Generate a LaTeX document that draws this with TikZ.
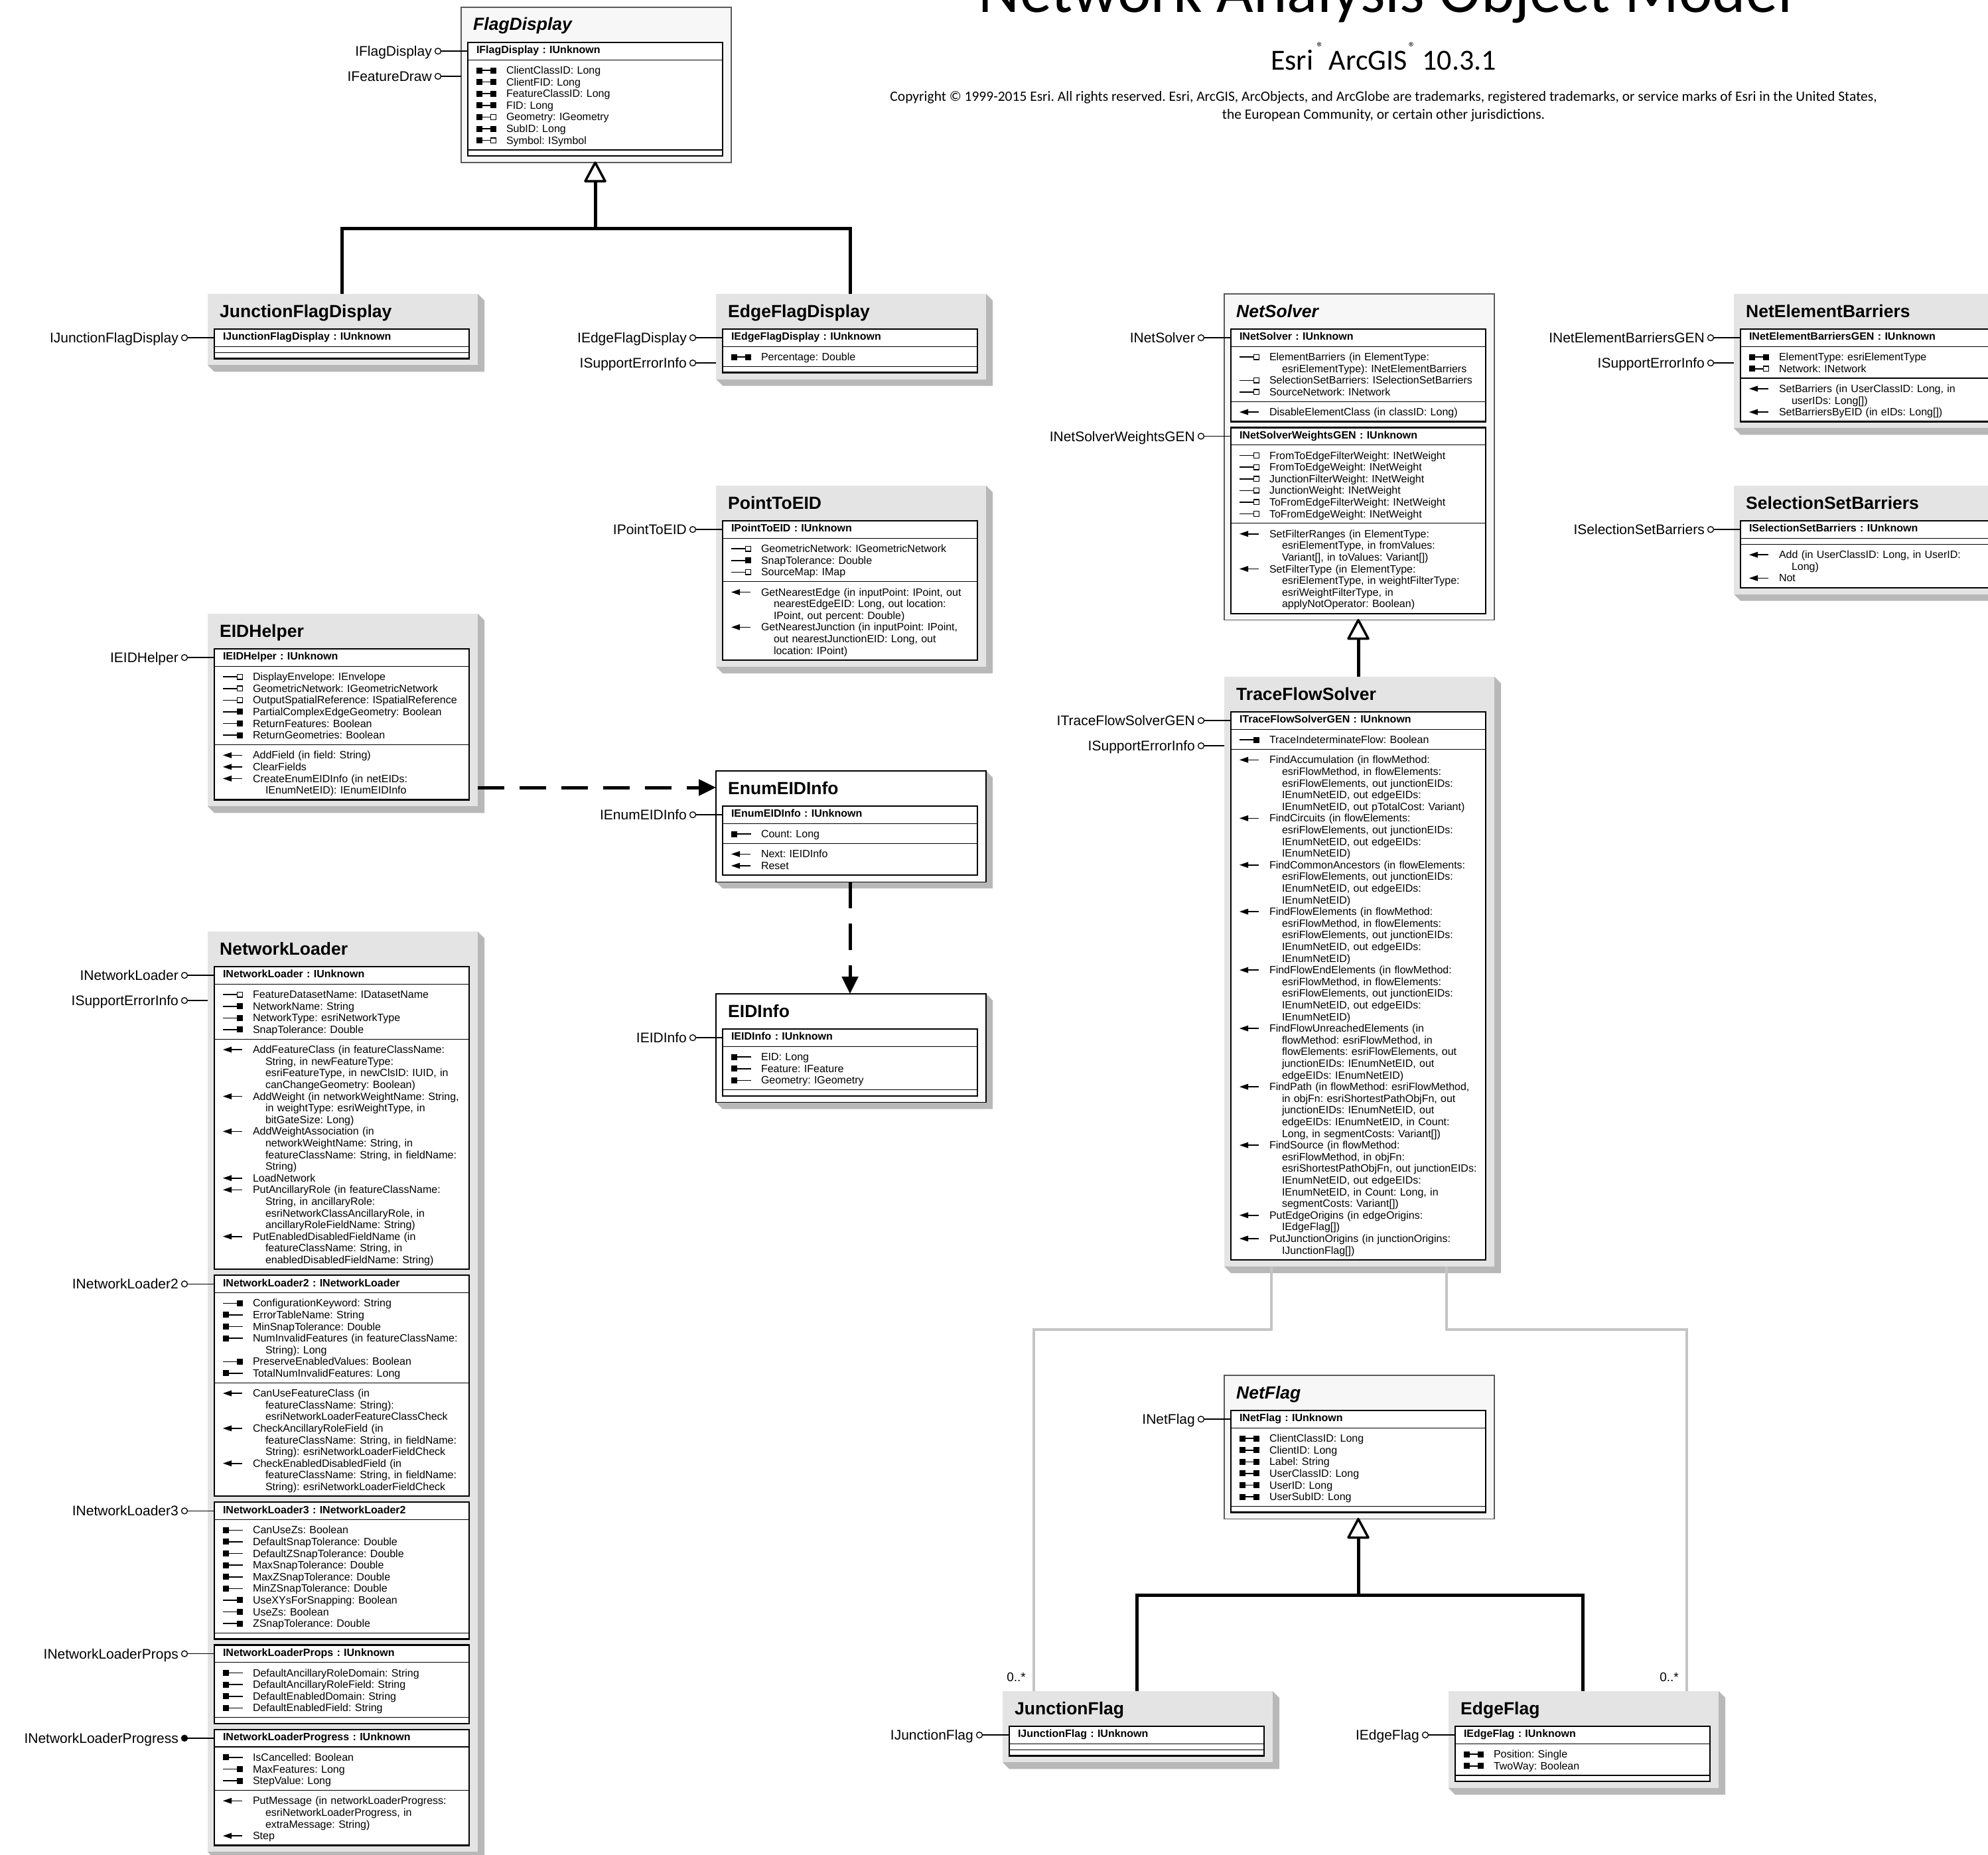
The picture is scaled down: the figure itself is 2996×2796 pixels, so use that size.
\documentclass[tikz,border=0pt]{standalone}
\usepackage{fontspec}
\setmainfont{Liberation Sans}
\newfontfamily\calfont{Carlito}
\usetikzlibrary{calc,arrows.meta}
\pgfdeclarelayer{back}
\pgfdeclarelayer{bg}
\pgfsetlayers{back,bg,main}
\definecolor{facegray}{RGB}{228,228,228}
\definecolor{shadowgray}{RGB}{184,184,184}
\definecolor{absfill}{RGB}{247,247,247}
\definecolor{absline}{RGB}{90,90,90}
\definecolor{assocgray}{RGB}{196,196,196}

\newcommand\st{\rule[-5pt]{0pt}{17.6pt}}
\newcommand\sqF[1]{\fill (#1,1) rectangle ++(9,9);}
\newcommand\sqH[1]{\draw[line width=1.4pt] (#1+0.7,1.7) rectangle ++(7.6,7.6);}
\newcommand\lnI[2]{\fill (#1,4.7) rectangle (#2,6.3);}
\newcommand\iRW{\tikz[x=1pt,y=1pt,baseline=0pt]{\sqF{0}\lnI{9}{21}\sqF{21}}}
\newcommand\iRWR{\tikz[x=1pt,y=1pt,baseline=0pt]{\sqF{0}\lnI{9}{21}\sqH{21}}}
\newcommand\iR{\tikz[x=1pt,y=1pt,baseline=0pt]{\lnI{0}{21}\sqF{21}}}
\newcommand\iRR{\tikz[x=1pt,y=1pt,baseline=0pt]{\lnI{0}{21}\sqH{21}}}
\newcommand\iW{\tikz[x=1pt,y=1pt,baseline=0pt]{\sqF{0}\lnI{9}{30}}}
\newcommand\iMe{\tikz[x=1pt,y=1pt,baseline=0pt]{\fill (0,5.5) -- (13,10) -- (13,1) -- cycle; \lnI{12}{29}}}
\newcommand\mem[2]{\par\noindent\mbox{\makebox[47pt][l]{\hspace*{2pt}#1}#2\st}}
\newcommand\cnt[1]{\par\noindent\mbox{\hspace*{66pt}#1\st}}
\newcommand\emp{\rule{0pt}{1.5pt}}
\newcommand\regm{\raisebox{27pt}{\fontsize{21}{21}\selectfont ®}}

\tikzset{
  comp/.style={draw, line width=1.1pt, fill=white, text width=362pt, inner xsep=11pt, inner ysep=3.8pt, outer sep=0pt, anchor=north west, align=left, font=\fontsize{16}{17.6}\selectfont},
  hdr/.style={comp, inner ysep=4.3pt},
  clstitle/.style={anchor=base west, inner sep=0pt, font=\fontsize{26.5}{30}\selectfont\bfseries},
  abstitle/.style={anchor=base west, inner sep=0pt, font=\fontsize{26.5}{30}\selectfont\bfseries\itshape},
  lolc/.style={circle, draw, line width=1.3pt, fill=white, minimum size=9pt, inner sep=0pt},
  lolf/.style={lolc, fill=black},
  lollab/.style={anchor=base east, inner sep=0pt, font=\fontsize{21}{21}\selectfont},
  genl/.style={line width=5pt},
  gentri/.style={line width=3.5pt, fill=white, line join=round},
  dep/.style={line width=5pt, dash pattern=on 40pt off 23pt, -{Triangle[length=26pt,width=24pt]}},
  assoc/.style={line width=4pt, draw=assocgray},
  mult/.style={anchor=base east, inner sep=0pt, font=\fontsize{19}{19}\selectfont},
}

\newcommand\iface[5]{%
  \node[hdr] (#1-h) at (#2) {\hspace*{2pt}\textbf{#3}\st};
  \node[comp] (#1-a) at (#1-h.south west) {#4};
  \node[comp] (#1-m) at (#1-a.south west) {#5};
  \draw[line width=2.2pt] (#1-h.north west) rectangle (#1-m.south east);
}
\newcommand\clsA[3]{%
  \coordinate (#1-nw) at (#2-10,#3);
  \coordinate (#1-top) at (#2+192,#3);
  \coordinate (#1-i) at (#2,#3+53);
}
\newcommand\shadowpath[1]{\fill[shadowgray] let \p1=(#1-nw), \p2=(#1-se) in (\x2,\y1) -- (\x2+10pt,\y1-10pt) -- (\x2+10pt,\y2-10pt) -- (\x1+10pt,\y2-10pt) -- (\x1,\y2) -- cycle;}
\newcommand\faceconc[1]{\shadowpath{#1}\fill[facegray] (#1-nw) rectangle (#1-se);}
\newcommand\faceinst[1]{\shadowpath{#1}\filldraw[fill=white, draw=black, line width=1.2pt] (#1-nw) rectangle (#1-se);}
\newcommand\faceabs[1]{\filldraw[fill=absfill, draw=absline, line width=1.2pt] (#1-nw) rectangle (#1-se);}
\newcommand\clsZ[3]{%
  \coordinate (#1-se) at ($(#2-m.south east)+(13,10)$);
  \coordinate (#1-bot) at ($(#2-m.south)+(0,10)$);
  \begin{pgfonlayer}{bg}\csname face#3\endcsname{#1}\end{pgfonlayer}
}
\newcommand\lolH[3]{%
  \node[lolc] (#1) at ($(#2-h.west)+(-45,0)$) {};
  \draw[line width=1.3pt] (#1) -- (#2-h.west);
  \node[lollab] (#1-l) at ($(#1.center)+(-9,7.5)$) {#3};
}
\newcommand\lolP[3]{%
  \node[lolf] (#1) at ($(#2-h.west)+(-45,0)$) {};
  \draw[line width=1.3pt] (#1) -- (#2-h.west);
  \node[lollab] (#1-l) at ($(#1.center)+(-9,7.5)$) {#3};
}
\newcommand\lolS[3]{%
  \coordinate (#1-p) at ($(#2-h.west)+(-10,38)$);
  \node[lolc] (#1) at ($(#2-h.west)+(-45,38)$) {};
  \draw[line width=1.3pt] (#1) -- (#1-p);
  \node[lollab] (#1-l) at ($(#1.center)+(-9,7.5)$) {#3};
}

\begin{document}
\frenchspacing
\begin{tikzpicture}[x=1pt,y=-1pt]
\useasboundingbox (0,0) rectangle (2996,2796);
\begin{pgfonlayer}{back}
\fill[white] (0,0) rectangle (2996,2796);
\end{pgfonlayer}

% ---------- heading ----------
\node[anchor=base, inner sep=0pt, font=\calfont\fontsize{96}{100}\selectfont] (title) at (2088,19) {Network Analysis Object Model};
\node[anchor=base, inner sep=0pt, font=\calfont\fontsize{44}{48}\selectfont] (ver) at (2085,106) {Esri\hspace{5pt}\regm\hspace{8pt}ArcGIS\hspace{2pt}\regm\hspace{10pt}10.3.1};
\node[anchor=base, inner sep=0pt, font=\calfont\fontsize{21.5}{24}\selectfont] (copy1) at (2085,153) {Copyright © 1999-2015 Esri. All rights reserved. Esri, ArcGIS, ArcObjects, and ArcGlobe are trademarks, registered trademarks, or service marks of Esri in the United States,};
\node[anchor=base, inner sep=0pt, font=\calfont\fontsize{21.5}{24}\selectfont] (copy2) at (2085,180) {the European Community, or certain other jurisdictions.};

% ---------- FlagDisplay ----------
\clsA{FD}{705}{11}
\node[abstitle] (FD-t) at (713,46) {FlagDisplay};
\iface{FDi}{FD-i}{IFlagDisplay : IUnknown}{\mem\iRW{ClientClassID: Long}\mem\iRW{ClientFID: Long}\mem\iRW{FeatureClassID: Long}\mem\iRW{FID: Long}\mem\iRWR{Geometry: IGeometry}\mem\iRW{SubID: Long}\mem\iRWR{Symbol: ISymbol}}{\emp}
\clsZ{FD}{FDi}{abs}
\lolH{lFD1}{FDi}{IFlagDisplay}
\lolS{lFD2}{FDi}{IFeatureDraw}

% ---------- JunctionFlagDisplay ----------
\clsA{JFD}{323}{443}
\node[clstitle] (JFD-t) at (331,478) {JunctionFlagDisplay};
\iface{JFDi}{JFD-i}{IJunctionFlagDisplay : IUnknown}{\emp}{\emp}
\clsZ{JFD}{JFDi}{conc}
\lolH{lJFD}{JFDi}{IJunctionFlagDisplay}

% ---------- EdgeFlagDisplay ----------
\clsA{EFD}{1089}{443}
\node[clstitle] (EFD-t) at (1097,478) {EdgeFlagDisplay};
\iface{EFDi}{EFD-i}{IEdgeFlagDisplay : IUnknown}{\mem\iRW{Percentage: Double}}{\emp}
\clsZ{EFD}{EFDi}{conc}
\lolH{lEFD1}{EFDi}{IEdgeFlagDisplay}
\lolS{lEFD2}{EFDi}{ISupportErrorInfo}

% ---------- PointToEID ----------
\clsA{PTE}{1089}{732}
\node[clstitle] (PTE-t) at (1097,767) {PointToEID};
\iface{PTEi}{PTE-i}{IPointToEID : IUnknown}{\mem\iRR{GeometricNetwork: IGeometricNetwork}\mem\iR{SnapTolerance: Double}\mem\iRR{SourceMap: IMap}}{\mem\iMe{GetNearestEdge (in inputPoint: IPoint, out}\cnt{nearestEdgeEID: Long, out location:}\cnt{IPoint, out percent: Double)}\mem\iMe{GetNearestJunction (in inputPoint: IPoint,}\cnt{out nearestJunctionEID: Long, out}\cnt{location: IPoint)}}
\clsZ{PTE}{PTEi}{conc}
\lolH{lPTE}{PTEi}{IPointToEID}

% ---------- EIDHelper ----------
\clsA{EH}{323}{925}
\node[clstitle] (EH-t) at (331,960) {EIDHelper};
\iface{EHi}{EH-i}{IEIDHelper : IUnknown}{\mem\iRR{DisplayEnvelope: IEnvelope}\mem\iRR{GeometricNetwork: IGeometricNetwork}\mem\iRR{OutputSpatialReference: ISpatialReference}\mem\iR{PartialComplexEdgeGeometry: Boolean}\mem\iR{ReturnFeatures: Boolean}\mem\iR{ReturnGeometries: Boolean}}{\mem\iMe{AddField (in field: String)}\mem\iMe{ClearFields}\mem\iMe{CreateEnumEIDInfo (in netEIDs:}\cnt{IEnumNetEID): IEnumEIDInfo}}
\clsZ{EH}{EHi}{conc}
\lolH{lEH}{EHi}{IEIDHelper}

% ---------- EnumEIDInfo ----------
\clsA{EN}{1089}{1162}
\node[clstitle] (EN-t) at (1097,1197) {EnumEIDInfo};
\iface{ENi}{EN-i}{IEnumEIDInfo : IUnknown}{\mem\iW{Count: Long}}{\mem\iMe{Next: IEIDInfo}\mem\iMe{Reset}}
\clsZ{EN}{ENi}{inst}
\lolH{lEN}{ENi}{IEnumEIDInfo}

% ---------- EIDInfo ----------
\clsA{EI}{1089}{1498}
\node[clstitle] (EI-t) at (1097,1533) {EIDInfo};
\iface{EIi}{EI-i}{IEIDInfo : IUnknown}{\mem\iW{EID: Long}\mem\iW{Feature: IFeature}\mem\iW{Geometry: IGeometry}}{\emp}
\clsZ{EI}{EIi}{inst}
\lolH{lEI}{EIi}{IEIDInfo}

% ---------- NetworkLoader ----------
\clsA{NL}{323}{1404}
\node[clstitle] (NL-t) at (331,1439) {NetworkLoader};
\iface{NL1}{NL-i}{INetworkLoader : IUnknown}{\mem\iRR{FeatureDatasetName: IDatasetName}\mem\iR{NetworkName: String}\mem\iR{NetworkType: esriNetworkType}\mem\iR{SnapTolerance: Double}}{\mem\iMe{AddFeatureClass (in featureClassName:}\cnt{String, in newFeatureType:}\cnt{esriFeatureType, in newClsID: IUID, in}\cnt{canChangeGeometry: Boolean)}\mem\iMe{AddWeight (in networkWeightName: String,}\cnt{in weightType: esriWeightType, in}\cnt{bitGateSize: Long)}\mem\iMe{AddWeightAssociation (in}\cnt{networkWeightName: String, in}\cnt{featureClassName: String, in fieldName:}\cnt{String)}\mem\iMe{LoadNetwork}\mem\iMe{PutAncillaryRole (in featureClassName:}\cnt{String, in ancillaryRole:}\cnt{esriNetworkClassAncillaryRole, in}\cnt{ancillaryRoleFieldName: String)}\mem\iMe{PutEnabledDisabledFieldName (in}\cnt{featureClassName: String, in}\cnt{enabledDisabledFieldName: String)}}
\iface{NL2}{$(NL1-m.south west)+(0,9)$}{INetworkLoader2 : INetworkLoader}{\mem\iR{ConfigurationKeyword: String}\mem\iW{ErrorTableName: String}\mem\iW{MinSnapTolerance: Double}\mem\iW{NumInvalidFeatures (in featureClassName:}\cnt{String): Long}\mem\iR{PreserveEnabledValues: Boolean}\mem\iW{TotalNumInvalidFeatures: Long}}{\mem\iMe{CanUseFeatureClass (in}\cnt{featureClassName: String):}\cnt{esriNetworkLoaderFeatureClassCheck}\mem\iMe{CheckAncillaryRoleField (in}\cnt{featureClassName: String, in fieldName:}\cnt{String): esriNetworkLoaderFieldCheck}\mem\iMe{CheckEnabledDisabledField (in}\cnt{featureClassName: String, in fieldName:}\cnt{String): esriNetworkLoaderFieldCheck}}
\iface{NL3}{$(NL2-m.south west)+(0,9)$}{INetworkLoader3 : INetworkLoader2}{\mem\iW{CanUseZs: Boolean}\mem\iW{DefaultSnapTolerance: Double}\mem\iW{DefaultZSnapTolerance: Double}\mem\iW{MaxSnapTolerance: Double}\mem\iW{MaxZSnapTolerance: Double}\mem\iW{MinZSnapTolerance: Double}\mem\iR{UseXYsForSnapping: Boolean}\mem\iR{UseZs: Boolean}\mem\iR{ZSnapTolerance: Double}}{\emp}
\iface{NL4}{$(NL3-m.south west)+(0,9)$}{INetworkLoaderProps : IUnknown}{\mem\iW{DefaultAncillaryRoleDomain: String}\mem\iW{DefaultAncillaryRoleField: String}\mem\iW{DefaultEnabledDomain: String}\mem\iW{DefaultEnabledField: String}}{\emp}
\iface{NL5}{$(NL4-m.south west)+(0,9)$}{INetworkLoaderProgress : IUnknown}{\mem\iW{IsCancelled: Boolean}\mem\iR{MaxFeatures: Long}\mem\iR{StepValue: Long}}{\mem\iMe{PutMessage (in networkLoaderProgress:}\cnt{esriNetworkLoaderProgress, in}\cnt{extraMessage: String)}\mem\iMe{Step}}
\clsZ{NL}{NL5}{conc}
\lolH{lNL1}{NL1}{INetworkLoader}
\lolS{lNL1s}{NL1}{ISupportErrorInfo}
\lolH{lNL2}{NL2}{INetworkLoader2}
\lolH{lNL3}{NL3}{INetworkLoader3}
\lolH{lNL4}{NL4}{INetworkLoaderProps}
\lolP{lNL5}{NL5}{INetworkLoaderProgress}

% ---------- NetSolver ----------
\clsA{NS}{1855}{443}
\node[abstitle] (NS-t) at (1863,478) {NetSolver};
\iface{NS1}{NS-i}{INetSolver : IUnknown}{\mem\iRR{ElementBarriers (in ElementType:}\cnt{esriElementType): INetElementBarriers}\mem\iRR{SelectionSetBarriers: ISelectionSetBarriers}\mem\iRR{SourceNetwork: INetwork}}{\mem\iMe{DisableElementClass (in classID: Long)}}
\iface{NS2}{$(NS1-m.south west)+(0,9)$}{INetSolverWeightsGEN : IUnknown}{\mem\iRR{FromToEdgeFilterWeight: INetWeight}\mem\iRR{FromToEdgeWeight: INetWeight}\mem\iRR{JunctionFilterWeight: INetWeight}\mem\iRR{JunctionWeight: INetWeight}\mem\iRR{ToFromEdgeFilterWeight: INetWeight}\mem\iRR{ToFromEdgeWeight: INetWeight}}{\mem\iMe{SetFilterRanges (in ElementType:}\cnt{esriElementType, in fromValues:}\cnt{Variant[], in toValues: Variant[])}\mem\iMe{SetFilterType (in ElementType:}\cnt{esriElementType, in weightFilterType:}\cnt{esriWeightFilterType, in}\cnt{applyNotOperator: Boolean)}}
\clsZ{NS}{NS2}{abs}
\lolH{lNS1}{NS1}{INetSolver}
\lolH{lNS2}{NS2}{INetSolverWeightsGEN}

% ---------- TraceFlowSolver ----------
\clsA{TFS}{1855}{1020}
\node[clstitle] (TFS-t) at (1863,1055) {TraceFlowSolver};
\iface{TFSi}{TFS-i}{ITraceFlowSolverGEN : IUnknown}{\mem\iR{TraceIndeterminateFlow: Boolean}}{%
\mem\iMe{FindAccumulation (in flowMethod:}\cnt{esriFlowMethod, in flowElements:}\cnt{esriFlowElements, out junctionEIDs:}\cnt{IEnumNetEID, out edgeEIDs:}\cnt{IEnumNetEID, out pTotalCost: Variant)}%
\mem\iMe{FindCircuits (in flowElements:}\cnt{esriFlowElements, out junctionEIDs:}\cnt{IEnumNetEID, out edgeEIDs:}\cnt{IEnumNetEID)}%
\mem\iMe{FindCommonAncestors (in flowElements:}\cnt{esriFlowElements, out junctionEIDs:}\cnt{IEnumNetEID, out edgeEIDs:}\cnt{IEnumNetEID)}%
\mem\iMe{FindFlowElements (in flowMethod:}\cnt{esriFlowMethod, in flowElements:}\cnt{esriFlowElements, out junctionEIDs:}\cnt{IEnumNetEID, out edgeEIDs:}\cnt{IEnumNetEID)}%
\mem\iMe{FindFlowEndElements (in flowMethod:}\cnt{esriFlowMethod, in flowElements:}\cnt{esriFlowElements, out junctionEIDs:}\cnt{IEnumNetEID, out edgeEIDs:}\cnt{IEnumNetEID)}%
\mem\iMe{FindFlowUnreachedElements (in}\cnt{flowMethod: esriFlowMethod, in}\cnt{flowElements: esriFlowElements, out}\cnt{junctionEIDs: IEnumNetEID, out}\cnt{edgeEIDs: IEnumNetEID)}%
\mem\iMe{FindPath (in flowMethod: esriFlowMethod,}\cnt{in objFn: esriShortestPathObjFn, out}\cnt{junctionEIDs: IEnumNetEID, out}\cnt{edgeEIDs: IEnumNetEID, in Count:}\cnt{Long, in segmentCosts: Variant[])}%
\mem\iMe{FindSource (in flowMethod:}\cnt{esriFlowMethod, in objFn:}\cnt{esriShortestPathObjFn, out junctionEIDs:}\cnt{IEnumNetEID, out edgeEIDs:}\cnt{IEnumNetEID, in Count: Long, in}\cnt{segmentCosts: Variant[])}%
\mem\iMe{PutEdgeOrigins (in edgeOrigins:}\cnt{IEdgeFlag[])}%
\mem\iMe{PutJunctionOrigins (in junctionOrigins:}\cnt{IJunctionFlag[])}}
\clsZ{TFS}{TFSi}{conc}
\lolH{lTFS1}{TFSi}{ITraceFlowSolverGEN}
\lolS{lTFS2}{TFSi}{ISupportErrorInfo}

% ---------- NetElementBarriers ----------
\clsA{NEB}{2623}{443}
\node[clstitle] (NEB-t) at (2631,478) {NetElementBarriers};
\iface{NEBi}{NEB-i}{INetElementBarriersGEN : IUnknown}{\mem\iRW{ElementType: esriElementType}\mem\iRWR{Network: INetwork}}{\mem\iMe{SetBarriers (in UserClassID: Long, in}\cnt{userIDs: Long[])}\mem\iMe{SetBarriersByEID (in eIDs: Long[])}}
\clsZ{NEB}{NEBi}{conc}
\lolH{lNEB1}{NEBi}{INetElementBarriersGEN}
\lolS{lNEB2}{NEBi}{ISupportErrorInfo}

% ---------- SelectionSetBarriers ----------
\clsA{SSB}{2623}{732}
\node[clstitle] (SSB-t) at (2631,767) {SelectionSetBarriers};
\iface{SSBi}{SSB-i}{ISelectionSetBarriers : IUnknown}{\emp}{\mem\iMe{Add (in UserClassID: Long, in UserID:}\cnt{Long)}\mem\iMe{Not}}
\clsZ{SSB}{SSBi}{conc}
\lolH{lSSB}{SSBi}{ISelectionSetBarriers}

% ---------- NetFlag ----------
\clsA{NF}{1855}{2073}
\node[abstitle] (NF-t) at (1863,2108) {NetFlag};
\iface{NFi}{NF-i}{INetFlag : IUnknown}{\mem\iRW{ClientClassID: Long}\mem\iRW{ClientID: Long}\mem\iRW{Label: String}\mem\iRW{UserClassID: Long}\mem\iRW{UserID: Long}\mem\iRW{UserSubID: Long}}{\emp}
\clsZ{NF}{NFi}{abs}
\lolH{lNF}{NFi}{INetFlag}

% ---------- JunctionFlag ----------
\clsA{JF}{1521}{2549}
\node[clstitle] (JF-t) at (1529,2584) {JunctionFlag};
\iface{JFi}{JF-i}{IJunctionFlag : IUnknown}{\emp}{\emp}
\clsZ{JF}{JFi}{conc}
\lolH{lJF}{JFi}{IJunctionFlag}

% ---------- EdgeFlag ----------
\clsA{EF}{2193}{2549}
\node[clstitle] (EF-t) at (2201,2584) {EdgeFlag};
\iface{EFi}{EF-i}{IEdgeFlag : IUnknown}{\mem\iRW{Position: Single}\mem\iRW{TwoWay: Boolean}}{\emp}
\clsZ{EF}{EFi}{conc}
\lolH{lEF}{EFi}{IEdgeFlag}

% ---------- connectors ----------
\coordinate (g1) at ($(FD-bot)+(0,99)$);
\draw[genl] (JFD-top) |- (g1) -| (EFD-top);
\draw[genl] ($(FD-bot)+(0,28)$) -- (g1);
\draw[gentri] (FD-bot) -- ++(-15,28) -- ++(30,0) -- cycle;

\draw[genl] ($(NS-bot)+(0,28)$) -- (TFS-top);
\draw[gentri] (NS-bot) -- ++(-15,28) -- ++(30,0) -- cycle;

\coordinate (g3) at ($(NF-bot)+(0,115)$);
\draw[genl] (JF-top) |- (g3) -| (EF-top);
\draw[genl] ($(NF-bot)+(0,28)$) -- (g3);
\draw[gentri] (NF-bot) -- ++(-15,28) -- ++(30,0) -- cycle;

\coordinate (d1s) at ($(EH-se |- EN-nw)+(0,25)$);
\coordinate (d1e) at ($(EN-nw)+(0,25)$);
\draw[dep] (d1s) -- (d1e);
\draw[dep] (EN-bot) -- (EI-top);

\coordinate (a1) at ($(TFS-bot)+(-131,0)$);
\coordinate (a2) at ($(TFS-bot)+(133,0)$);
\coordinate (a1e) at ($(JF-nw)+(47,0)$);
\coordinate (a2e) at ($(EF-nw)+(359,0)$);
\draw[assoc] (a1) -- ++(0,95) -| (a1e);
\draw[assoc] (a2) -- ++(0,95) -| (a2e);
\node[mult] (m1) at ($(a1e)+(-12,-15)$) {0..*};
\node[mult] (m2) at ($(a2e)+(-12,-15)$) {0..*};
\end{tikzpicture}
\end{document}
